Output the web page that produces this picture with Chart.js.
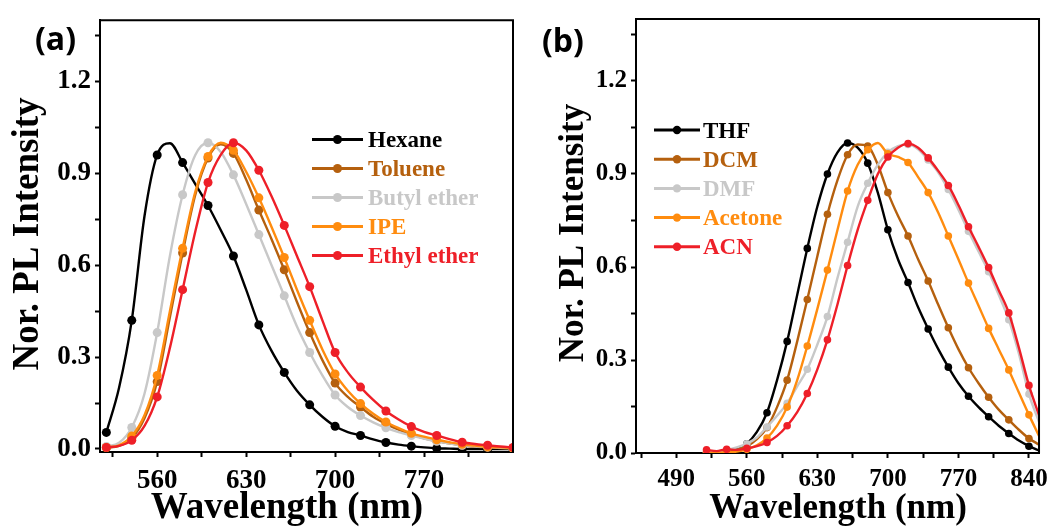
<!DOCTYPE html>
<html>
<head>
<meta charset="utf-8">
<title>Normalized PL spectra in different solvents</title>
<script src="https://cdn.jsdelivr.net/npm/chart.js@4/dist/chart.umd.min.js"></script>
<style>
  html, body { margin: 0; padding: 0; background: #fff; }
  #wrap { position: relative; width: 1055px; height: 527px; overflow: hidden; }
  canvas { position: absolute; top: 0; }
  #panelA { left: 0; }
  #panelB { left: 527px; }
</style>
</head>
<body>
<div id="wrap">
  <canvas id="panelA" width="527" height="527"></canvas>
  <canvas id="panelB" width="528" height="527"></canvas>
</div>
<script>
// ---- Panel (a): emission in low-polarity solvents (nm, normalized intensity) ----
const wavelengthA = [520, 530, 540, 550, 560, 570, 580, 590, 600, 610, 620, 630, 640, 650, 660, 670,
                     680, 690, 700, 710, 720, 730, 740, 750, 760, 770, 780, 790, 800, 810, 820, 830, 840];
const hexane     = [0.054, 0.20, 0.42, 0.76, 0.96, 0.998, 0.935, 0.865, 0.795, 0.715, 0.63, 0.52, 0.405, 0.32, 0.25, 0.19,
                    0.144, 0.105, 0.074, 0.055, 0.044, 0.031, 0.021, 0.014, 0.009, 0.005, 0.002, 0.001, 0.0, 0.0, 0.0, 0.0, 0.0];
const toluene    = [0.004, 0.010, 0.035, 0.10, 0.22, 0.43, 0.64, 0.83, 0.95, 0.995, 0.965, 0.88, 0.78, 0.685, 0.585, 0.48,
                    0.38, 0.29, 0.215, 0.17, 0.137, 0.105, 0.082, 0.063, 0.047, 0.035, 0.026, 0.018, 0.012, 0.008, 0.005, 0.003, 0.002];
const butylEther = [0.008, 0.020, 0.07, 0.18, 0.38, 0.63, 0.83, 0.96, 1.0, 0.97, 0.895, 0.80, 0.70, 0.60, 0.50, 0.40,
                    0.315, 0.24, 0.176, 0.137, 0.109, 0.087, 0.069, 0.055, 0.044, 0.034, 0.025, 0.018, 0.012, 0.009, 0.006, 0.004, 0.003];
const ipe        = [0.005, 0.012, 0.042, 0.11, 0.24, 0.45, 0.655, 0.84, 0.955, 1.0, 0.975, 0.905, 0.82, 0.725, 0.625, 0.52,
                    0.42, 0.325, 0.245, 0.19, 0.148, 0.115, 0.088, 0.068, 0.051, 0.040, 0.030, 0.022, 0.015, 0.011, 0.007, 0.005, 0.003];
const ethylEther = [0.005, 0.010, 0.028, 0.075, 0.17, 0.33, 0.52, 0.71, 0.87, 0.96, 1.0, 0.975, 0.91, 0.825, 0.73, 0.63,
                    0.53, 0.42, 0.315, 0.25, 0.202, 0.16, 0.124, 0.096, 0.073, 0.056, 0.044, 0.032, 0.022, 0.016, 0.012, 0.008, 0.005];

// ---- Panel (b): emission in polar solvents ----
const wavelengthB = [520, 530, 540, 550, 560, 570, 580, 590, 600, 610, 620, 630, 640, 650, 660, 670, 680,
                     690, 700, 710, 720, 730, 740, 750, 760, 770, 780, 790, 800, 810, 820, 830, 840, 850];
const thf     = [0.0, 0.002, 0.005, 0.012, 0.03, 0.068, 0.13, 0.235, 0.36, 0.51, 0.66, 0.795, 0.90, 0.97, 1.0, 0.985, 0.935,
                 0.84, 0.72, 0.625, 0.55, 0.47, 0.40, 0.335, 0.277, 0.225, 0.183, 0.148, 0.117, 0.088, 0.063, 0.040, 0.022, 0.008];
const dcm     = [0.0, 0.002, 0.004, 0.010, 0.022, 0.045, 0.082, 0.148, 0.235, 0.36, 0.495, 0.635, 0.77, 0.88, 0.962, 0.995, 0.99,
                 0.93, 0.84, 0.765, 0.70, 0.625, 0.555, 0.478, 0.404, 0.335, 0.275, 0.225, 0.18, 0.14, 0.107, 0.075, 0.047, 0.027];
const dmf     = [0.0, 0.005, 0.010, 0.018, 0.03, 0.05, 0.084, 0.12, 0.16, 0.215, 0.27, 0.35, 0.44, 0.565, 0.68, 0.795, 0.87,
                 0.93, 0.97, 0.99, 0.995, 0.98, 0.945, 0.905, 0.85, 0.785, 0.715, 0.65, 0.585, 0.51, 0.43, 0.32, 0.19, 0.10];
const acetone = [0.0, 0.0, 0.002, 0.005, 0.012, 0.025, 0.048, 0.088, 0.148, 0.235, 0.345, 0.465, 0.59, 0.72, 0.845, 0.93, 0.978,
                 1.0, 0.965, 0.955, 0.937, 0.89, 0.84, 0.775, 0.70, 0.625, 0.548, 0.475, 0.402, 0.335, 0.268, 0.195, 0.123, 0.055];
const acn     = [0.01, 0.006, 0.012, 0.010, 0.015, 0.022, 0.034, 0.055, 0.088, 0.132, 0.192, 0.27, 0.365, 0.48, 0.605, 0.72, 0.815,
                 0.90, 0.955, 0.985, 0.998, 0.985, 0.952, 0.91, 0.863, 0.80, 0.73, 0.665, 0.598, 0.525, 0.452, 0.34, 0.218, 0.122];

// ---- Axis ticks (minor every 35 nm / 0.15, labels on the major ones) ----
const xTicksA  = [525, 560, 595, 630, 665, 700, 735, 770, 805];
const xLabelsA = [560, 630, 700, 770];
const xTicksB  = [455, 490, 525, 560, 595, 630, 665, 700, 735, 770, 805, 840];
const xLabelsB = [490, 560, 630, 700, 770, 840];
const yTicks   = [0, 0.15, 0.3, 0.45, 0.6, 0.75, 0.9, 1.05, 1.2, 1.35];
const yLabels  = [0, 0.3, 0.6, 0.9, 1.2];

const BLACK = '#000000', BROWN = '#B5600E', GRAY = '#C8C8C8', ORANGE = '#FF8C0F', RED = '#EE1F28';
const SERIF = "'Liberation Serif', 'Times New Roman', serif";

// Frame, in-plot legend, axis titles and panel letter
function decorations(o) {
  return {
    id: 'decorations',
    afterDraw(chart) {
      const { ctx, chartArea: a } = chart;
      ctx.save();
      ctx.strokeStyle = '#000';
      ctx.lineWidth = 2;
      ctx.beginPath();
      ctx.moveTo(a.left, a.top);
      ctx.lineTo(a.right, a.top);
      ctx.lineTo(a.right, a.bottom);
      ctx.stroke();

      // legend
      ctx.font = `bold ${o.legend.size}px ${SERIF}`;
      ctx.textAlign = 'left';
      ctx.textBaseline = 'alphabetic';
      chart.data.datasets.forEach((ds, i) => {
        const y = o.legend.y + i * o.legend.dy;
        ctx.strokeStyle = ds.borderColor;
        ctx.fillStyle = ds.borderColor;
        ctx.lineWidth = 3;
        ctx.beginPath();
        ctx.moveTo(o.legend.x0, y);
        ctx.lineTo(o.legend.x1, y);
        ctx.stroke();
        ctx.beginPath();
        ctx.arc((o.legend.x0 + o.legend.x1) / 2, y, o.legend.r, 0, Math.PI * 2);
        ctx.fill();
        ctx.fillText(ds.label, o.legend.tx, y + o.legend.size * 0.33);
      });

      // axis titles
      ctx.fillStyle = '#000';
      ctx.font = `bold ${o.titleSize}px ${SERIF}`;
      ctx.textAlign = 'center';
      ctx.fillText('Wavelength (nm)', o.xTitle.x, o.xTitle.y);
      ctx.save();
      ctx.translate(o.yTitle.x, o.yTitle.y);
      ctx.rotate(-Math.PI / 2);
      ctx.fillText('Nor. PL Intensity', 0, 0);
      ctx.restore();

      // panel letter
      ctx.font = "bold 32px 'Open Sans', 'Noto Sans', sans-serif";
      ctx.textAlign = 'left';
      ctx.fillText(o.letter.text, o.letter.x, o.letter.y);
      ctx.restore();
    }
  };
}

function makePanel(canvasId, p) {
  const canvas = document.getElementById(canvasId);
  const W = canvas.width, H = canvas.height;
  const n = p.series.length;
  return new Chart(canvas, {
    type: 'line',
    data: {
      datasets: p.series.map((s, i) => ({
        label: s.label,
        data: p.x.map((w, k) => ({ x: w, y: s.values[k] })),
        borderColor: s.color,
        backgroundColor: s.color,
        borderWidth: 2.4,
        pointRadius: ctx => (ctx.dataIndex % 2 === 0 ? p.pointR : 0),
        pointBorderWidth: 0,
        pointHoverRadius: 0,
        cubicInterpolationMode: 'monotone',
        fill: false,
        order: n - 1 - i
      }))
    },
    options: {
      responsive: false,
      animation: false,
      events: [],
      layout: { padding: { left: 0, top: p.area.top, right: W - p.area.right, bottom: 0 } },
      plugins: { legend: { display: false }, tooltip: { enabled: false } },
      scales: {
        x: {
          type: 'linear',
          min: p.xMin,
          max: p.xMax,
          afterFit: s => { s.height = H - p.area.bottom; },
          afterBuildTicks: s => { s.ticks = p.xTicks.map(v => ({ value: v })); },
          ticks: {
            autoSkip: false,
            maxRotation: 0,
            color: '#000',
            padding: p.xTickPad,
            font: { family: SERIF, weight: 'bold', size: p.tickSize },
            callback: v => (p.xLabels.includes(v) ? String(v) : '')
          },
          grid: { drawOnChartArea: false, drawTicks: true, tickLength: 5, tickWidth: 2, tickColor: '#000' },
          border: { display: true, color: '#000', width: 2 }
        },
        y: {
          type: 'linear',
          min: p.yMin,
          max: 1.4,
          afterFit: s => { s.width = p.area.left; },
          afterBuildTicks: s => { s.ticks = yTicks.map(v => ({ value: v })); },
          ticks: {
            autoSkip: false,
            color: '#000',
            padding: 4,
            font: { family: SERIF, weight: 'bold', size: p.tickSize },
            callback: v => (yLabels.some(l => Math.abs(l - v) < 1e-6) ? v.toFixed(1) : '')
          },
          grid: { drawOnChartArea: false, drawTicks: true, tickLength: 5, tickWidth: 2, tickColor: '#000' },
          border: { display: true, color: '#000', width: 2 }
        }
      }
    },
    plugins: [decorations(p.decor)]
  });
}

makePanel('panelA', {
  x: wavelengthA,
  series: [
    { label: 'Hexane', values: hexane, color: BLACK },
    { label: 'Toluene', values: toluene, color: BROWN },
    { label: 'Butyl ether', values: butylEther, color: GRAY },
    { label: 'IPE', values: ipe, color: ORANGE },
    { label: 'Ethyl ether', values: ethylEther, color: RED }
  ],
  xMin: 515, xMax: 840, yMin: -0.01,
  xTicks: xTicksA, xLabels: xLabelsA,
  area: { left: 100, right: 513, top: 15, bottom: 452 },
  tickSize: 27,
  xTickPad: 8,
  pointR: 4.5,
  decor: {
    legend: { x0: 312, x1: 363, tx: 368, y: 139.5, dy: 29, r: 4.5, size: 23 },
    titleSize: 37,
    xTitle: { x: 287, y: 518 },
    yTitle: { x: 38, y: 234 },
    letter: { text: '(a)', x: 35, y: 50 }
  }
});

makePanel('panelB', {
  x: wavelengthB,
  series: [
    { label: 'THF', values: thf, color: BLACK },
    { label: 'DCM', values: dcm, color: BROWN },
    { label: 'DMF', values: dmf, color: GRAY },
    { label: 'Acetone', values: acetone, color: ORANGE },
    { label: 'ACN', values: acn, color: RED }
  ],
  xMin: 450, xMax: 850, yMin: 0,
  xTicks: xTicksB, xLabels: xLabelsB,
  area: { left: 109, right: 516, top: 15, bottom: 453 },
  tickSize: 25,
  xTickPad: 7,
  pointR: 3.8,
  decor: {
    legend: { x0: 127, x1: 173, tx: 176, y: 130, dy: 29.2, r: 4.2, size: 23 },
    titleSize: 35,
    xTitle: { x: 311, y: 518 },
    yTitle: { x: 56, y: 233 },
    letter: { text: '(b)', x: 15, y: 52 }
  }
});
</script>
</body>
</html>
